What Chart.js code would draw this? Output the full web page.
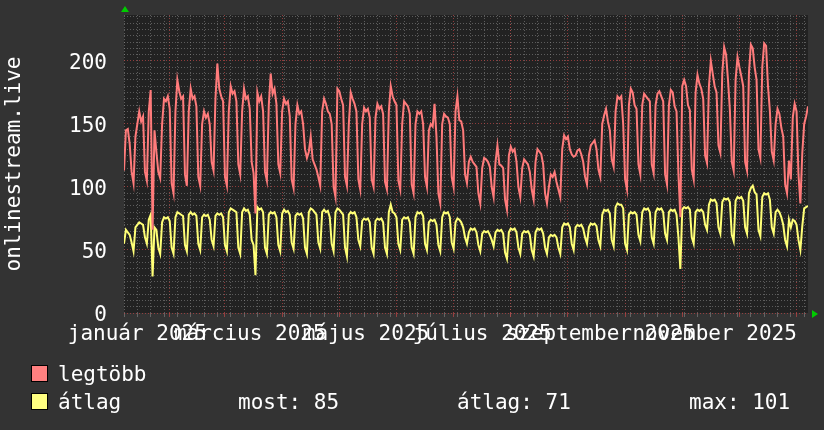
<!DOCTYPE html>
<html>
<head>
<meta charset="utf-8">
<script src="https://cdn.jsdelivr.net/npm/chart.js@4.4.1/dist/chart.umd.min.js"></script>
<style>
  html, body { margin: 0; padding: 0; background: #333333; }
  #wrap { position: relative; width: 824px; height: 430px; overflow: hidden;
          font-family: 'DejaVu Sans Mono', monospace; font-size: 21px; color: #ffffff; }
  #chart { position: absolute; left: 0; top: 0; }
  .swatch { position: absolute; width: 15px; height: 15px; border: 1px solid #000; }
  .txt { position: absolute; line-height: 21px; white-space: pre; }
</style>
</head>
<body>
<div id="wrap">
  <canvas id="chart" width="824" height="430"></canvas>
  <div class="swatch" style="left:31px; top:365px; background:#ff8080"></div>
  <div class="txt" style="left:58px; top:364px">legtöbb</div>
  <div class="swatch" style="left:31px; top:393px; background:#ffff80"></div>
  <div class="txt" style="left:58px; top:392px">átlag</div>
  <div class="txt" style="left:238px; top:392px">most: 85</div>
  <div class="txt" style="left:457px; top:392px">átlag: 71</div>
  <div class="txt" style="left:689px; top:392px">max: 101</div>
</div>
<script>
// daily values, one week per line (weekend dip on the 6th value)
const maxValues = [
  113, 145, 146, 134, 112, 103, 140,
  150, 160, 152, 156, 112, 105, 160,
  177,  66, 145, 128, 112, 107, 150,
  170, 168, 172, 162, 103,  95, 160,
  185, 176, 170, 172, 110, 101, 160,
  178, 170, 172, 164, 108, 101, 150,
  160, 155, 158, 150, 120, 113, 170,
  198, 178, 172, 168, 108, 101, 160,
  180, 174, 176, 168, 118, 110, 160,
  178, 170, 172, 162, 120, 111,  79,
  175, 168, 172, 160, 112, 105, 165,
  190, 174, 178, 166, 118, 111, 160,
  170, 166, 168, 156, 106,  99, 150,
  165, 158, 160, 150, 130, 123, 128,
  140, 122, 118, 114, 108, 101, 160,
  170, 166, 160, 158, 150, 100,  92,
  178, 176, 170, 165, 108, 101, 150,
  175, 170, 166, 160, 106,  98, 150,
  163, 160, 162, 155, 106, 100, 155,
  166, 162, 164, 158, 104,  98, 160,
  180, 172, 168, 165, 105,  98, 150,
  168, 166, 164, 158, 102,  95, 150,
  160, 158, 160, 150, 108, 100, 145,
  150, 148, 166, 140,  95,  87, 150,
  158, 156, 155, 150, 108, 100, 160,
  172, 153, 152, 145, 110, 103, 120,
  124, 120, 118, 116,  95,  87, 115,
  123, 122, 120, 116, 100,  92, 120,
  133, 118, 117, 115,  90,  82, 125,
  132, 128, 130, 120, 100,  92, 115,
  122, 120, 118, 112,  98,  90, 120,
  130, 128, 126, 118,  95,  87, 100,
  110, 108, 112, 104,  98,  92, 130,
  141, 138, 140, 130, 126, 124, 125,
  129, 130, 126, 120, 108, 102, 125,
  133, 135, 137, 130, 114, 108, 150,
  157, 162, 152, 145, 122, 116, 160,
  172, 170, 172, 150, 106,  98, 165,
  178, 175, 165, 162, 118, 110, 165,
  174, 172, 170, 168, 118, 111, 165,
  174, 176, 172, 168, 110, 102, 165,
  177, 175, 164, 160, 110,  76, 180,
  185, 180, 165, 161, 114, 106, 175,
  189, 182, 178, 170, 125, 119, 180,
  200, 190, 180, 175, 133, 127, 190,
  211, 205, 185, 161, 120, 113, 185,
  203, 195, 188, 180, 120, 113, 190,
  213, 210, 195, 185, 130, 123, 195,
  214, 212, 180, 160, 128, 121, 150,
  162, 158, 147, 140, 102,  95, 121,
  106, 155, 166, 160, 110,  87, 127,
  150, 156, 164
];

const avgValues = [
  55, 66, 64, 62, 56, 49, 68,
  70, 72, 71, 70, 60, 55, 74,
  78, 29, 68, 66, 52, 47, 72,
  76, 75, 76, 73, 52, 47, 76,
  80, 79, 78, 77, 54, 49, 78,
  80, 78, 79, 77, 55, 50, 76,
  78, 77, 78, 74, 58, 53, 77,
  79, 78, 79, 76, 54, 49, 80,
  83, 82, 81, 80, 52, 47, 80,
  83, 81, 82, 78, 58, 54, 30,
  84, 82, 83, 80, 52, 47, 78,
  80, 79, 80, 76, 54, 49, 79,
  82, 80, 81, 78, 56, 51, 77,
  79, 78, 79, 75, 52, 47, 80,
  83, 82, 80, 78, 56, 51, 80,
  82, 80, 81, 76, 55, 49, 80,
  83, 82, 80, 78, 52, 45, 78,
  80, 79, 80, 76, 58, 53, 73,
  75, 74, 75, 72, 52, 47, 73,
  75, 74, 75, 72, 52, 47, 80,
  86, 80, 79, 76, 55, 50, 74,
  76, 75, 76, 72, 52, 47, 76,
  80, 79, 80, 77, 55, 50, 72,
  74, 73, 74, 70, 54, 49, 76,
  80, 79, 80, 76, 56, 51, 72,
  75, 74, 72, 68, 60, 55, 64,
  67, 66, 67, 64, 54, 49, 63,
  65, 64, 65, 62, 58, 53, 64,
  66, 65, 66, 63, 48, 43, 64,
  67, 66, 67, 64, 52, 47, 63,
  65, 64, 65, 62, 50, 45, 64,
  67, 66, 67, 63, 52, 47, 60,
  62, 61, 62, 60, 52, 47, 68,
  71, 70, 71, 68, 55, 50, 68,
  70, 69, 70, 67, 60, 55, 68,
  71, 70, 71, 69, 58, 53, 78,
  82, 81, 82, 79, 58, 53, 84,
  87, 86, 86, 83, 55, 50, 78,
  80, 79, 80, 78, 62, 57, 80,
  83, 82, 83, 80, 60, 55, 80,
  83, 82, 83, 80, 63, 58, 80,
  82, 81, 82, 78, 60, 35, 82,
  84, 83, 84, 82, 60, 55, 80,
  82, 81, 82, 80, 70, 66, 86,
  90, 89, 90, 87, 68, 63, 88,
  91, 90, 91, 88, 62, 57, 89,
  92, 91, 92, 89, 68, 63, 95,
  99, 101, 96, 94, 66, 61, 92,
  95, 94, 95, 90, 68, 63, 80,
  82, 80, 76, 70, 58, 53, 74,
  68, 74, 73, 70, 58, 50, 69,
  83, 84, 85
];

const monthLabels = ['január 2025', 'március 2025', 'május 2025', 'július 2025', 'szeptember 2025', 'november 2025'];
const monthLabelDays = [7, 66, 127, 188, 250, 310];
const majorGridDays = [24, 53, 83, 113, 143, 173, 203, 233, 263, 293, 323, 353];
const yLabelValues = [0, 50, 100, 150, 200];

const dayCount = maxValues.length;
const yMax = 236.5;
const fontSpec = { family: "'DejaVu Sans Mono', monospace", size: 21 };
const minorColor = 'rgba(140, 140, 140, 0.55)';
const majorColor = 'rgba(190, 70, 70, 0.7)';

const days = [];
for (let i = 0; i < dayCount; i++) days.push(i);

const bgPlugin = {
  id: 'plotBg',
  beforeDraw(chart) {
    const { ctx, chartArea: a } = chart;
    ctx.save();
    ctx.fillStyle = '#222222';
    ctx.fillRect(a.left, a.top, a.right - a.left, a.bottom - a.top);
    ctx.restore();
  },
  afterDraw(chart) {
    const { ctx, chartArea: a } = chart;
    ctx.save();
    ctx.fillStyle = '#00cc00';
    ctx.beginPath();
    ctx.moveTo(a.left + 1, a.top - 9);
    ctx.lineTo(a.left - 3, a.top - 3);
    ctx.lineTo(a.left + 5, a.top - 3);
    ctx.closePath();
    ctx.fill();
    ctx.beginPath();
    ctx.moveTo(a.right + 10, a.bottom + 1);
    ctx.lineTo(a.right + 4, a.bottom - 3);
    ctx.lineTo(a.right + 4, a.bottom + 5);
    ctx.closePath();
    ctx.fill();
    ctx.restore();
  }
};

function gridColor(ctx) {
  const kind = ctx.tick && ctx.tick.kind;
  if (kind === 'label') return 'rgba(0,0,0,0)';
  return kind === 'major' ? majorColor : minorColor;
}

new Chart(document.getElementById('chart').getContext('2d'), {
  type: 'line',
  data: {
    labels: days,
    datasets: [
      { label: 'legtöbb', data: maxValues, borderColor: '#ff7b7b', borderWidth: 2,
        pointRadius: 0, tension: 0, fill: false },
      { label: 'átlag', data: avgValues, borderColor: '#ffff77', borderWidth: 2,
        pointRadius: 0, tension: 0, fill: false }
    ]
  },
  options: {
    responsive: false,
    animation: false,
    devicePixelRatio: 1,
    layout: { padding: { top: 15, right: 16, left: 0, bottom: 0 } },
    plugins: { legend: { display: false }, tooltip: { enabled: false } },
    scales: {
      x: {
        type: 'linear',
        min: 0,
        max: dayCount - 1,
        afterBuildTicks(scale) {
          const t = [];
          for (let d = 0; d < dayCount; d += 7) t.push({ value: d, kind: 'minor' });
          majorGridDays.forEach(d => t.push({ value: d, kind: 'major' }));
          monthLabelDays.forEach((d, i) => t.push({ value: d, kind: 'label', text: monthLabels[i] }));
          scale.ticks = t;
        },
        afterFit(scale) {
          scale.height = 117;
          scale.paddingLeft = 0;
          scale.paddingRight = 0;
        },
        grid: { color: gridColor, lineWidth: 1, drawTicks: true, tickLength: 4 },
        border: { display: false, dash: [1, 2] },
        ticks: {
          autoSkip: false, maxRotation: 0, minRotation: 0, padding: 5,
          color: '#ffffff', font: fontSpec,
          callback: (v, i, ticks) => ticks[i].kind === 'label' ? ticks[i].text : ''
        }
      },
      y: {
        min: 0,
        max: yMax,
        afterBuildTicks(scale) {
          const t = [];
          for (let v = 0; v <= 235; v += 5) {
            t.push({ value: v, kind: v % 50 === 0 ? 'major' : 'minor' });
          }
          scale.ticks = t;
        },
        afterFit(scale) {
          scale.width = 124;
          scale.paddingTop = 0;
          scale.paddingBottom = 0;
        },
        grid: { color: gridColor, lineWidth: 1, drawTicks: false },
        border: { display: false, dash: [1, 2] },
        title: { display: true, text: 'onlinestream.live', color: '#ffffff', font: fontSpec,
                 padding: { top: 2, bottom: 0 } },
        ticks: {
          autoSkip: false, padding: 17, labelOffset: 3, color: '#ffffff', font: fontSpec,
          callback: v => yLabelValues.includes(v) ? String(v) : ''
        }
      }
    }
  },
  plugins: [bgPlugin]
});
</script>
</body>
</html>
